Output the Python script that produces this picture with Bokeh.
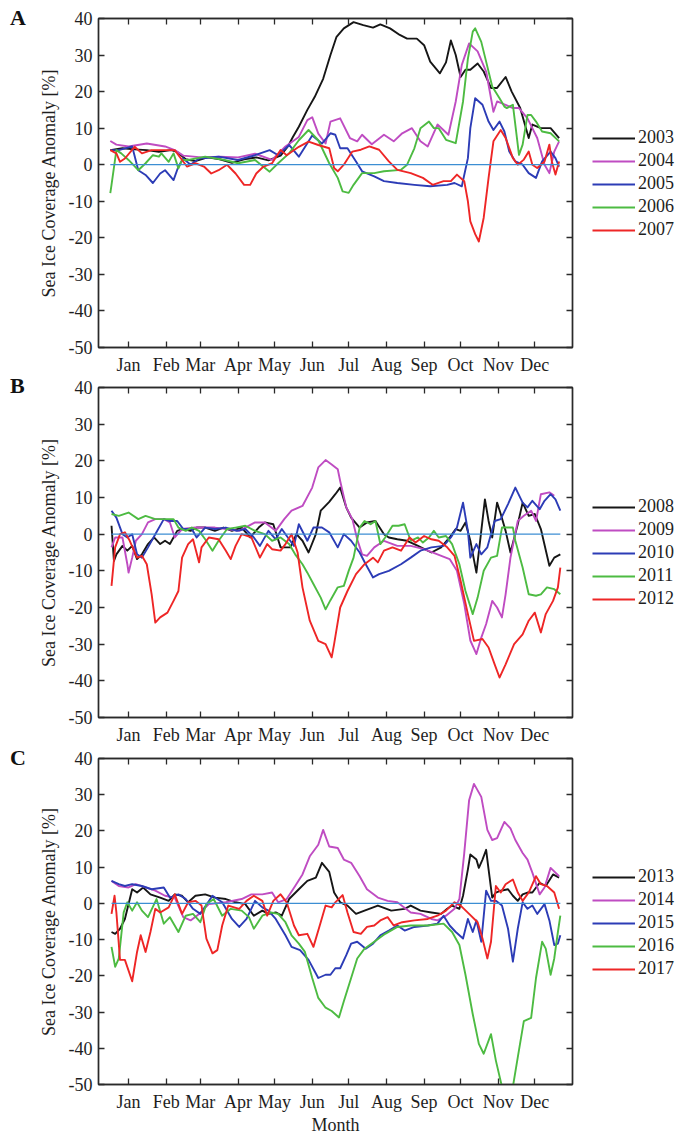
from bokeh.plotting import figure
from bokeh.models import Range1d, FixedTicker, LinearAxis, Legend, LegendItem, Div
from bokeh.layouts import column, row
from bokeh.embed import file_html
from bokeh.resources import INLINE

# ---------------- axis definitions ----------------
MONTHS = ["Jan", "Feb", "Mar", "Apr", "May", "Jun", "Jul", "Aug", "Sep", "Oct", "Nov", "Dec"]
MONTH_DAYS = [15, 46, 74, 105, 135, 166, 196, 227, 258, 288, 319, 349]
Y_TICKS = [-50, -40, -30, -20, -10, 0, 10, 20, 30, 40]
X_START, X_END = -9.7, 380
Y_START, Y_END = -50, 40

# ---------------- Panel A (2003-2007) ----------------
days_2003 = [0,10,20,30,40,50,55,62,70,80,90,100,110,120,130,140,146,150,155,162,168,175,181,186,192,200,208,216,222,230,238,244,252,258,263,271,276,280,284,288,292,296,302,307,313,318,325,330,337,344,347,354,362,369]
vals_2003 = [4,4.5,4.2,4,3.5,4,3.5,1.5,1,2,1.5,0.5,1.5,2,1.2,2.5,5,7.5,10.4,15,18.5,23.5,30,35,37.3,39,38.2,37.5,38.4,37.3,35.5,34.5,34.5,32.7,28.2,25,28,34,30,24,26,26,27.7,25.5,21,21,24,20,15.5,7.3,11,10,10,7.3]

days_2004 = [0,5,15,30,45,53,60,75,90,105,119,133,144,155,162,166,171,177,181,189,197,203,207,215,225,233,240,248,255,261,269,278,284,289,295,302,309,315,318,325,331,336,343,351,357,361,365,369]
vals_2004 = [6.5,5.5,5,5.8,5,4,2.5,2,2.2,2,3,1.3,5,7.6,12.2,13,8.5,5.8,11.8,12.7,7.3,6.4,8.2,5.6,8.2,6.4,8.6,10,6.4,5,11,8.2,17.3,27.3,33.2,31,25.5,14.5,17.3,16.4,15.5,15.5,12.7,7.3,0,-2.3,3.6,6.4]

days_2005 = [0,7,18,23,29,35,41,45,52,56,60,66,73,89,105,119,131,138,147,155,166,174,181,185,189,195,202,207,217,225,236,250,263,277,283,289,294,296,300,306,311,315,320,324,328,333,339,344,350,355,362,366,369]
vals_2005 = [4,4,5,-1.5,-2.8,-5,-2.4,-1.5,-4.2,-0.5,1.7,0,1.7,2.2,1.3,2.6,4,2.6,5.4,2.2,8,5.8,8.6,8.2,4.5,4.5,0.9,-1.8,-3.2,-4.5,-5,-5.5,-5.9,-5.5,-5,-5.9,1.8,10,18.2,16.4,11.8,9.5,11.8,9.1,3.6,0.9,0,-2.3,-3.6,0.9,3.6,1.8,-0.5]

days_2006 = [0,1,5,9,15,23,29,35,40,42,48,52,56,59,64,78,94,105,119,131,138,147,155,163,171,180,187,191,196,200,207,217,225,239,244,250,255,262,266,270,276,284,290,294,298,300,305,309,314,320,324,326,331,336,339,343,346,350,355,362,369]
vals_2006 = [-7.8,-5.5,4,3.1,1.3,-1.5,0.4,2.6,2.2,3.1,0.8,3.1,-1,1.3,1.3,2.2,1.3,0.4,1.3,-1.9,0.4,3.1,6.7,9.5,6.7,0.4,-3.6,-7.3,-7.7,-5.5,-2.3,-2.3,-1.8,-1.4,0,4.5,10,11.8,10,10,6.8,5.9,17.3,29,36.4,37.3,33.6,28.2,21.4,18.2,15.9,15.5,16.4,2.7,5.5,13.6,13.6,11.8,9.1,8.6,6.4]

days_2007 = [0,5,8,12,20,26,34,45,53,59,63,70,77,83,89,96,103,110,115,120,126,133,140,145,155,163,171,180,184,187,192,199,206,213,221,229,236,247,257,265,274,280,285,291,294,296,300,303,307,311,315,321,325,331,335,340,344,347,351,357,361,363,366,369]
vals_2007 = [4,3.1,0.8,1.7,4.9,3.1,4,4,4,1.3,-0.5,0.4,-0.5,-2.4,-1.5,0,-2.4,-5.5,-5.5,-2.4,-0.5,0.4,4,2.6,4.9,6.3,5.4,4.5,-0.9,-1.8,0,3.6,4.1,5,4.1,0.9,-1.4,-2.3,-3.6,-5.5,-4.5,-4.5,-2.7,-4.5,-10,-15.5,-19,-21,-14.5,-3.6,6.4,9.5,7.3,1.8,0,1.4,3.6,0,-0.9,0.9,5.5,0.9,-2.7,0.9]

# ---------------- Panel B (2008-2012) ----------------
days_2008 = [1,3,5,10,14,18,22,26,31,36,41,45,49,55,60,66,71,78,86,93,100,108,115,122,127,134,140,148,153,158,163,169,173,180,185,189,194,198,205,211,218,225,229,236,244,253,264,272,279,284,288,292,296,301,305,308,311,314,318,321,325,329,335,339,344,349,354,361,365,370]
vals_2008 = [2.3,-7.3,-5.5,-3.2,-4.5,-3.2,-6.8,-5.5,-2.7,-0.9,-2.7,-1.8,-2.7,0.9,1.4,0.9,1.8,1.8,0.9,1.8,0.9,1.8,-0.9,1.8,3.2,2.7,-3.6,-3.6,0,-1.8,-5,0,6.4,8.8,10.9,12.7,7.3,4.5,1.8,3.2,3.6,0,-0.9,-1.4,-1.8,-3.2,-5,-3.6,-0.9,1.4,0.9,3.2,-1.8,-10.5,0.9,9.5,3.6,-0.9,8.6,5.5,0.9,-5,2.7,8.6,5,5.5,1.4,-8.6,-6.4,-5.5]

days_2009 = [1,4,10,14,15,18,21,26,31,37,44,49,53,59,70,86,106,119,127,136,143,149,158,166,171,177,182,187,189,194,199,203,207,211,217,225,236,247,258,269,279,285,291,296,301,305,309,314,318,322,325,329,335,340,346,350,354,361,365]
vals_2009 = [-3.6,-0.9,-0.9,-8.2,-10.5,-6.4,-1.8,0,3.2,4.1,4.1,3.2,-0.9,1.4,1.8,1.8,0.9,3.2,3.2,0.9,4.1,6.4,7.7,12.7,18.2,20.2,19,17.7,14.5,7.3,4.1,-1.4,-5.5,-5.9,-3.6,-1.8,-3.2,-3.2,-4.1,-5.5,-6.8,-10,-19,-29,-32.7,-28.2,-24.5,-18.2,-20,-22.7,-16.4,-6.4,3.6,5,6.4,3.6,10.9,11.4,10.5]

days_2010 = [1,5,10,14,18,22,26,31,37,44,49,55,60,67,71,78,86,95,104,111,118,123,130,136,141,147,151,155,162,167,174,180,187,192,198,205,210,216,221,229,239,247,255,264,274,280,285,290,294,296,301,305,310,316,321,327,333,339,343,347,353,357,362,366,370]
vals_2010 = [6.4,4.5,0,-0.9,0,-5.5,-6.4,-3.6,0,4.1,3.6,3.6,1.4,1.4,-0.9,1.8,1.4,1.8,0.9,1.4,-0.9,-3.2,0.9,-1.4,1.4,-1.4,-3.2,2.7,-1.8,1.8,1.8,0.5,-3.6,0,-1.8,-5,-8.2,-11.8,-10.9,-10,-8.2,-6.4,-4.5,-3.6,-3.2,-0.9,1.8,8.6,0.9,-6.4,-2.7,-5.5,-3.6,3.6,4.1,8.2,12.7,8.6,7.3,9.1,6.8,9.1,10.9,9.5,6.4]

days_2011 = [1,7,15,23,29,37,45,52,56,62,67,73,78,84,89,96,103,111,119,127,133,140,147,152,158,162,167,173,177,181,187,192,196,200,205,209,214,218,222,226,232,237,242,247,253,257,262,266,270,276,281,287,292,298,302,307,313,318,322,327,331,333,339,344,350,354,359,365,370]
vals_2011 = [5.5,5,5.9,4.1,5,4.1,4.1,4.1,1.8,0.9,1.8,0.9,-1.4,-4.5,-1.8,1.4,1.8,2.3,0.9,0,-1.8,-0.9,-2.7,-5.5,-8.2,-10.5,-13.6,-17.3,-20.5,-18,-14.5,-14.1,-10,-6.4,1.8,3.6,2.7,3.6,-2.7,-0.9,2.3,2.3,2.7,-1.8,-0.9,-2.3,-0.9,0.9,-0.9,-0.5,-2.7,-8.2,-15.5,-21.8,-17.3,-10,-6.4,-5.9,1.8,1.8,1.8,-1.8,-9.1,-16.4,-16.8,-16.4,-14.5,-15,-16.4]

days_2012 = [1,4,8,12,16,22,26,30,34,37,41,47,52,56,59,64,68,73,75,81,89,95,99,103,108,116,123,129,133,140,144,149,154,158,164,171,177,182,184,189,195,202,209,216,220,225,232,239,246,251,258,264,270,277,283,288,294,299,306,311,316,320,325,332,339,344,349,354,358,364,368,370]
vals_2012 = [-14.1,-3.6,0,0.5,-1.8,-6.4,-5.9,-8.2,-16.4,-24.1,-22.7,-21.4,-18.2,-15.5,-6.4,-2.7,-1.4,-7.7,-3.6,-0.9,-1.4,-4.5,-6.8,-3.2,0,-0.9,-6.4,-2.7,-4.1,-4.5,-2.7,0,-5,-14.5,-23.6,-29.1,-30,-33.6,-30,-20,-15.5,-10.9,-8.2,-6.4,-7.7,-4.5,-3.6,-4.5,-0.9,-2.3,-0.5,-1.4,-1.8,-3.6,-5.9,-12.7,-21.8,-29.1,-28.6,-30.9,-35.5,-39.1,-35.5,-30,-27.3,-23.6,-21.4,-26.8,-21.8,-18.2,-14.5,-9.1]

# ---------------- Panel C (2013-2017) ----------------
days_2013 = [1,4,8,12,18,22,27,33,41,48,53,59,64,70,78,86,95,103,111,118,125,130,136,141,147,155,162,169,174,180,184,189,195,202,209,220,231,242,247,255,264,272,277,281,287,290,294,296,301,303,306,309,311,314,317,321,327,331,335,339,343,347,353,358,364,369]
vals_2013 = [-7.9,-8.4,-7,-4.3,3.9,3,4.4,2.5,1.6,0.7,2.5,2.1,0.3,2.1,2.5,1.6,1.2,0.3,-0.2,-3.4,-2,-2.9,-2.5,-3.4,1.2,3.9,6.2,7.1,11.2,8.7,3,0.3,-0.6,-2.9,-2,-0.6,-2,-1.5,-0.6,-2,-2.5,-2.9,-1.5,-0.6,-1.5,2.1,9.4,13.5,12.1,9.8,12.1,14.8,9.4,1.6,3,3.5,3.9,2.1,0.7,2.5,3,3,5.7,4.8,8,7.1]

days_2014 = [1,7,15,21,29,37,45,53,60,66,73,81,95,108,116,125,133,138,145,152,158,164,171,175,180,187,192,198,205,211,220,228,236,247,255,264,269,276,283,287,291,295,299,305,310,314,318,324,329,333,339,343,347,353,357,362,369]
vals_2014 = [6.2,4.8,4.4,5.3,4.4,3.5,2.1,1.6,-3.8,-4.7,-2.9,-0.2,0.3,1.2,2.5,2.5,3,0.3,1.2,4.8,8,13,16.2,20.3,15.7,15.3,12.1,11.2,7.5,3.9,1.6,0.7,0.3,-2.5,-2.9,-4.3,-4.7,-3.4,-1.5,1.2,13.9,28.5,33,29.4,20.3,17.5,18,22.5,20.7,17.5,13.9,12.1,8.5,2.5,4.4,9.8,7.5]

days_2015 = [1,7,12,18,26,34,44,49,56,62,68,74,84,92,100,106,112,119,125,130,136,144,149,156,163,171,177,181,185,189,194,198,203,210,216,222,229,236,242,250,261,269,274,279,284,290,294,298,301,305,309,313,317,322,327,331,335,339,343,347,351,357,361,365,368,370]
vals_2015 = [6.2,5.3,4.8,5.3,4.8,3.9,4.4,1.6,2.5,1.2,-1.5,-2.9,2.1,0.3,-4.3,-6.5,-4.3,0.7,-1.1,-2,-4.3,-8.8,-12,-12.9,-15.6,-20.6,-19.7,-19.7,-17.9,-17.9,-14.3,-11.1,-10.6,-12.5,-11.1,-8.8,-7.5,-6.1,-7.5,-6.5,-6.1,-5.6,-3.4,-6.1,-7.9,-9.7,-4.3,-7.9,-4.7,-10.6,3.5,0.7,0.7,-0.6,-7,-16.1,-7,0.3,-1.5,-0.6,-2.9,-0.2,-4.7,-11.5,-11.1,-8.8]

days_2016 = [1,4,7,11,14,18,22,26,31,38,44,49,56,62,68,74,79,85,92,99,108,114,118,125,132,138,144,149,155,160,166,171,177,182,188,192,198,203,209,217,226,236,247,261,274,281,287,292,298,303,307,313,317,322,326,331,335,340,346,350,355,358,362,365,368,370]
vals_2016 = [-12,-17.5,-15.2,-2.5,0.3,-2,0.3,-2,-3.8,1.2,-5.6,-3.8,-7.9,-3.4,-2.9,-5.2,-0.2,1.2,-3.4,-1.5,-2,-3.8,-7,-3.4,-2.5,-2.9,-5.2,-8.8,-11.1,-13.4,-20.6,-26.1,-28.8,-29.7,-31.5,-27,-20.6,-15.2,-12.5,-10.6,-8.4,-6.5,-6.1,-6.1,-5.6,-7.9,-11.5,-19.7,-30.6,-38.8,-41.5,-36.1,-43.4,-50.6,-53,-50.6,-42.5,-32.5,-31.6,-20.6,-10.6,-12.5,-19.7,-15.2,-7.9,-3.4]

days_2017 = [1,3.5,5,8,12,18,22,25,29,33,37,41,48,53,59,64,70,75,79,84,88,92,97,106,112,118,125,129,134,140,145,151,155,162,167,173,177,182,185,191,195,200,206,211,217,222,228,233,240,250,261,269,276,283,288,295,302,306,310,313,317,321,325,331,335,339,344,350,354,359,365,369]
vals_2017 = [-2.9,2.1,-2.5,-15.6,-15.6,-21.5,-13.4,-8.8,-13.4,-7.9,-1.5,-2.5,-1.1,2.5,-2.9,0.3,0.7,-0.6,-9.7,-13.8,-12.9,-6.1,-0.6,-1.5,0.7,2.1,0.7,-3.4,0.7,2.5,0.3,-6.1,-8.8,-8.4,-12,-5.2,-0.6,-1.1,0.3,2.3,-2.5,-7.9,-8.4,-6.5,-6.1,-4.7,-3.8,-6.1,-5.2,-4.7,-4.3,-3.4,-2,0.3,-0.6,-2.9,-5.2,-9.7,-15.2,-10.6,4.8,3,5.3,6.6,3,0.7,3,7.5,5.3,4.8,3,-1.5]

PANELS = [
    ("A", [("2003", days_2003, vals_2003), ("2004", days_2004, vals_2004), ("2005", days_2005, vals_2005),
           ("2006", days_2006, vals_2006), ("2007", days_2007, vals_2007)]),
    ("B", [("2008", days_2008, vals_2008), ("2009", days_2009, vals_2009), ("2010", days_2010, vals_2010),
           ("2011", days_2011, vals_2011), ("2012", days_2012, vals_2012)]),
    ("C", [("2013", days_2013, vals_2013), ("2014", days_2014, vals_2014), ("2015", days_2015, vals_2015),
           ("2016", days_2016, vals_2016), ("2017", days_2017, vals_2017)]),
]

for _, ser in PANELS:
    for name, d, v in ser:
        if len(d) != len(v):
            raise ValueError(f"{name}: {len(d)} days vs {len(v)} values")

# ---------------- style ----------------
FONT = "Liberation Serif"
COLORS = ["#161616", "#bf4cc2", "#2c3cb6", "#4dbb42", "#ee2626"]
ZERO_COLOR = "#3c8ed3"
AXC = "#2a2a2a"
TXT = "#1e1e1e"
LW = 1.9
LETTER_W = 30
MAIN_RIGHT = 577          # right edge of the main figure (frame ends at 572)
TOTAL_W = 679

# (height, top border, bottom border, letter padding-top, legend offset)
GEOM = {"A": (377, 18, 29, 10, 107), "B": (371, 10, 31, 1, 108), "C": (389, 10, 49, 2, 105)}


def style_axis(ax, show_labels):
    ax.axis_line_color = AXC
    ax.axis_line_width = 1.4
    ax.major_tick_line_color = AXC
    ax.major_tick_line_width = 1.3
    ax.major_tick_in = 6
    ax.major_tick_out = 0
    ax.minor_tick_line_color = None
    ax.major_label_text_font = FONT
    if show_labels:
        ax.major_label_text_color = TXT
        ax.major_label_text_font_size = "18px"
        ax.major_label_standoff = 7
    else:
        ax.major_label_text_color = None
        ax.major_label_text_font_size = "0px"
        ax.major_label_standoff = 0


def make_panel(letter, series, last):
    h, top, bottom, pad, leg_y = GEOM[letter]
    p = figure(width=MAIN_RIGHT - LETTER_W, height=h, output_backend="svg", toolbar_location=None,
               x_range=Range1d(X_START, X_END), y_range=Range1d(Y_START, Y_END),
               min_border_left=98 - LETTER_W, min_border_right=MAIN_RIGHT - 572,
               min_border_top=top, min_border_bottom=bottom)
    p.background_fill_color = "white"
    p.border_fill_color = "white"
    p.outline_line_color = AXC
    p.outline_line_width = 1.4
    p.xgrid.visible = False
    p.ygrid.visible = False

    xa = p.xaxis[0]
    xa.ticker = FixedTicker(ticks=MONTH_DAYS)
    xa.major_label_overrides = {d: m for d, m in zip(MONTH_DAYS, MONTHS)}
    style_axis(xa, True)
    if last:
        xa.axis_label = "Month"
        xa.axis_label_text_font = FONT
        xa.axis_label_text_font_size = "18px"
        xa.axis_label_text_font_style = "normal"
        xa.axis_label_text_color = TXT
        xa.axis_label_standoff = 0

    ya = p.yaxis[0]
    ya.ticker = FixedTicker(ticks=Y_TICKS)
    ya.major_label_overrides = {t: str(t) for t in Y_TICKS}
    style_axis(ya, True)
    ya.major_label_standoff = 6
    ya.axis_label = "Sea Ice Coverage Anomaly [%]"
    ya.axis_label_text_font = FONT
    ya.axis_label_text_font_size = "18px"
    ya.axis_label_text_font_style = "normal"
    ya.axis_label_text_color = TXT
    ya.axis_label_standoff = 7

    top_ax = LinearAxis(ticker=FixedTicker(ticks=MONTH_DAYS))
    style_axis(top_ax, False)
    p.add_layout(top_ax, "above")
    right_ax = LinearAxis(ticker=FixedTicker(ticks=Y_TICKS))
    style_axis(right_ax, False)
    p.add_layout(right_ax, "right")

    all_days = []
    for (name, d, v), c in zip(series, COLORS):
        p.line(d, v, line_color=c, line_width=LW, line_join="round")
        all_days.extend(d)
    p.line([min(all_days), max(all_days)], [0, 0], line_color=ZERO_COLOR, line_width=1.2)

    # legend figure to the right of the axes box (its lines lie outside its view)
    lg = figure(width=TOTAL_W - MAIN_RIGHT, height=h, output_backend="svg", toolbar_location=None,
                x_range=Range1d(-1000, -990), y_range=Range1d(Y_START, Y_END),
                x_axis_location=None, y_axis_location=None,
                min_border_left=0, min_border_right=0, min_border_top=0, min_border_bottom=0)
    lg.outline_line_color = None
    lg.background_fill_color = "white"
    lg.border_fill_color = "white"
    lg.xgrid.visible = False
    lg.ygrid.visible = False
    items = []
    for (name, d, v), c in zip(series, COLORS):
        r = lg.line(d, v, line_color=c, line_width=LW)
        items.append(LegendItem(label=name, renderers=[r]))
    leg = Legend(items=items, location=(15, leg_y), orientation="vertical",
                 glyph_width=43, glyph_height=20, label_height=20, label_width=10,
                 spacing=2, label_standoff=3, padding=0, margin=0,
                 border_line_color=None, background_fill_alpha=0,
                 label_text_font=FONT, label_text_font_size="18px",
                 label_text_color=TXT)
    lg.add_layout(leg, "center")

    letter_div = Div(
        text=(f'<div style="font-family:\'Liberation Serif\',serif;font-weight:bold;'
              f'font-size:22px;line-height:15px;padding-left:10px;padding-top:{pad}px;'
              f'color:#111111">{letter}</div>'),
        width=LETTER_W, height=h, margin=0)
    return row(letter_div, p, lg, spacing=0)


rows = [make_panel(letter, ser, i == len(PANELS) - 1) for i, (letter, ser) in enumerate(PANELS)]
layout = column(*rows, spacing=0)

open("out.html", "w").write(file_html(layout, INLINE))
